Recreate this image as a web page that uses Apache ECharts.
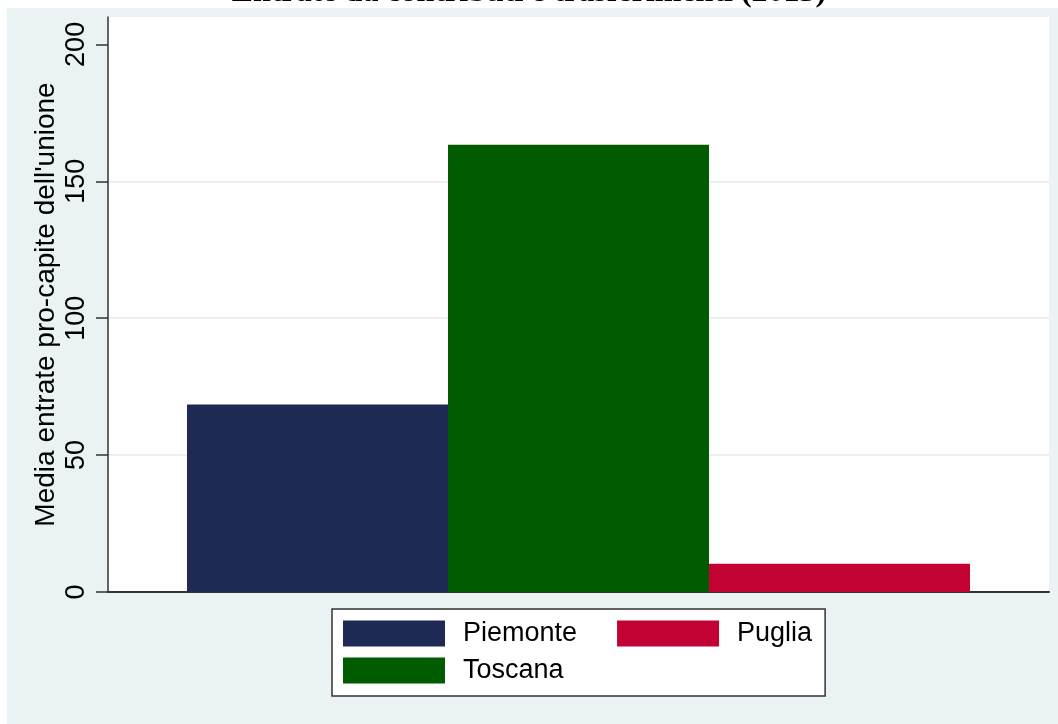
<!DOCTYPE html>
<html>
<head>
<meta charset="utf-8">
<script src="https://cdn.jsdelivr.net/npm/echarts@6/dist/echarts.min.js"></script>
<style>
  html, body { margin: 0; padding: 0; background: #fff; }
  #chart { width: 1058px; height: 724px; }
</style>
</head>
<body>
<div id="chart"></div>
<script>
// data
const categories = ['']
const regions = ['Piemonte', 'Toscana', 'Puglia']
const values = [68.5, 163.3, 10.3]
const yTicks = [0, 50, 100, 150, 200]
const yMax = 210

const barColors = ['#1f2a54', '#015b01', '#c10233']
const font = 'Liberation Sans, Arial, sans-serif'

const chart = echarts.init(document.getElementById('chart'))

const series = regions.map((name, i) => ({
  name: name,
  type: 'bar',
  barWidth: 261,
  barGap: '0%',
  itemStyle: { color: barColors[i] },
  data: [values[i]]
}))

const legendItem = {
  icon: 'rect',
  itemWidth: 102,
  itemHeight: 26,
  itemStyle: { borderWidth: 0 },
  textStyle: { fontFamily: font, fontSize: 27, color: '#000', padding: [0, 0, 0, 13] },
  selectedMode: false
}

chart.setOption({
  animation: false,
  title: {
    text: 'Entrate da contributi e trasferimenti (2013)',
    left: 'center',
    top: -23,
    padding: 0,
    textStyle: { fontFamily: 'Liberation Serif, Times New Roman, serif', fontWeight: 'bold', fontSize: 32, color: '#000' }
  },
  graphic: [
    {
      type: 'rect',
      z: -10,
      shape: { x: 7, y: 8, width: 1051, height: 716 },
      style: { fill: '#eaf2f3' }
    }
  ],
  grid: {
    left: 108,
    right: 9,
    top: 17,
    bottom: 132,
    show: true,
    backgroundColor: '#fff',
    borderWidth: 0
  },
  legend: [
    Object.assign({}, legendItem, {
      data: ['Piemonte', 'Puglia'],
      left: 332,
      top: 609,
      itemGap: 40,
      padding: [11, 13, 49, 11],
      borderColor: '#333',
      borderWidth: 1.5,
      backgroundColor: '#fff'
    }),
    Object.assign({}, legendItem, {
      data: ['Toscana'],
      left: 343,
      top: 657,
      padding: 0
    })
  ],
  xAxis: {
    type: 'category',
    data: categories,
    axisLine: { lineStyle: { color: '#333', width: 2 } },
    axisTick: { show: false },
    axisLabel: { show: false }
  },
  yAxis: {
    type: 'value',
    min: 0,
    max: yMax,
    interval: 50,
    name: "Media entrate pro-capite dell'unione",
    nameLocation: 'middle',
    nameGap: 48,
    nameMoveOverlap: false,
    nameTextStyle: { fontFamily: font, fontSize: 28, color: '#000' },
    axisLine: { show: true, lineStyle: { color: '#333', width: 1.5 } },
    axisTick: { show: true, length: 12, customValues: yTicks, lineStyle: { color: '#333', width: 1.5 } },
    axisLabel: {
      customValues: yTicks,
      rotate: 90,
      margin: 18,
      fontFamily: font,
      fontSize: 27,
      color: '#000'
    },
    splitLine: {
      show: true,
      lineStyle: {
        color: ['transparent', '#e3edee', '#e3edee', '#e3edee', 'transparent', 'transparent'],
        width: 1.5
      }
    }
  },
  series: series
})
</script>
</body>
</html>
